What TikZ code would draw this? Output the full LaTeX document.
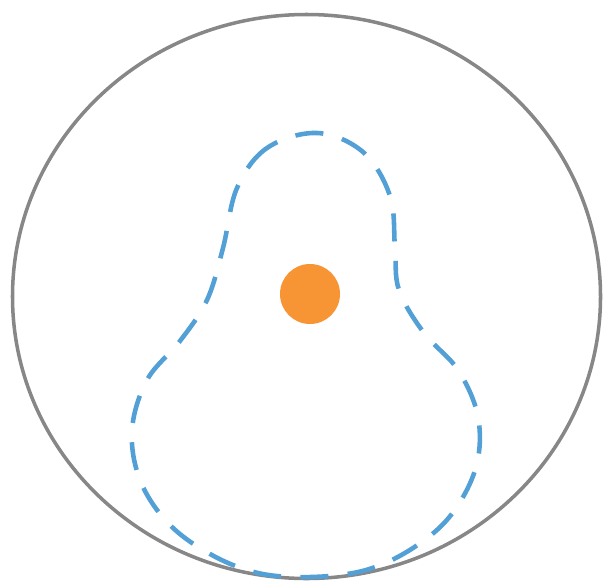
\documentclass[tikz,border=0pt]{standalone}
\begin{document}
\begin{tikzpicture}[x=0.02cm,y=-0.02cm,
  ring/.style={draw=ringgray,line width=2pt},
  blob/.style={draw=blobblue,line width=2.6pt,dash pattern=on 16pt off 11pt},
  dotstyle/.style={circle,fill=dotorange,inner sep=0pt,minimum size=1.2cm}]
\definecolor{ringgray}{RGB}{135,135,135}
\definecolor{blobblue}{RGB}{82,160,214}
\definecolor{dotorange}{RGB}{247,148,52}
\useasboundingbox (0,0) rectangle (604,581);
\draw[ring] (306.5,296.5) ellipse[x radius=294, y radius=282];
\draw[blob] plot[smooth cycle,tension=0.6] coordinates {
 (317,133) (267,148) (237,188) (223,248) (207,300) (180,341) (147,380)
 (132,430) (140,480) (168,523) (210,554) (258,573) (311,577) (366,570)
 (413,548) (451,515) (476,467) (478,417) (458,370) (424,333) (399,290)
 (395,248) (390,196) (363,152)};
\node[dotstyle] (dot) at (310,294) {};
\end{tikzpicture}
\end{document}
